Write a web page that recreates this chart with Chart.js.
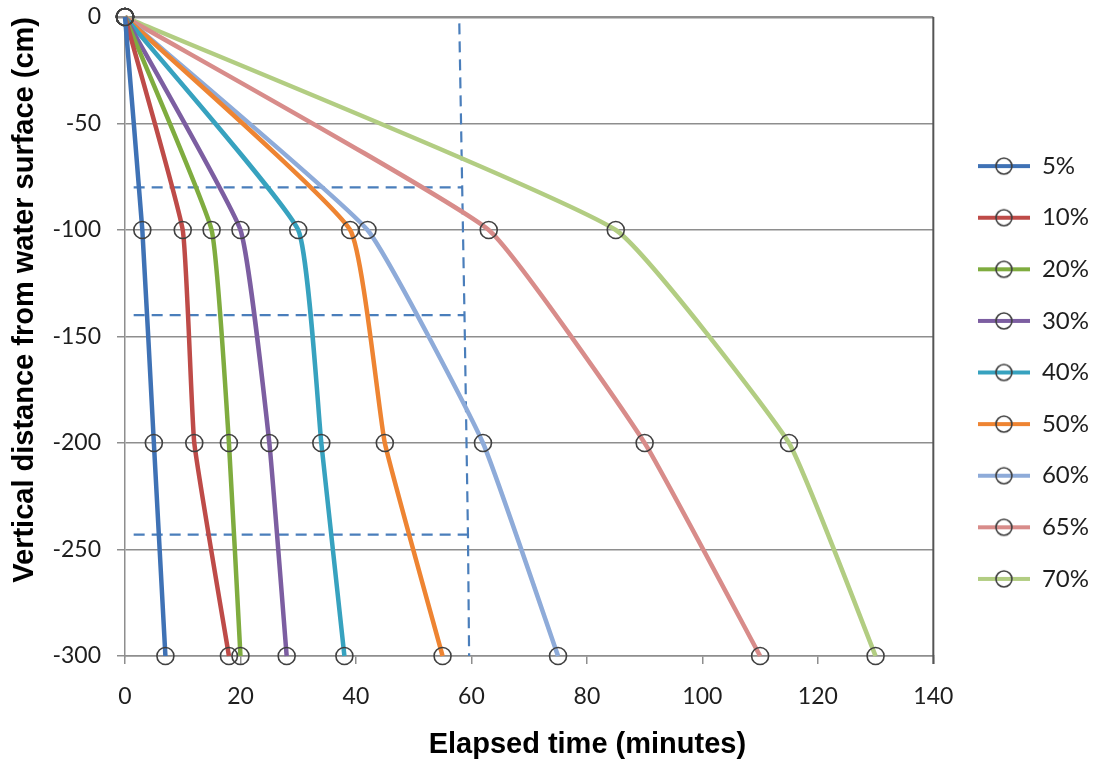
<!DOCTYPE html>
<html>
<head>
<meta charset="utf-8">
<title>Elapsed time vs vertical distance</title>
<script src="https://cdn.jsdelivr.net/npm/chart.js@4.4.1/dist/chart.umd.min.js"></script>
<style>
  html, body { margin: 0; padding: 0; background: #fff; }
  #chart { display: block; }
</style>
</head>
<body>
<canvas id="chart" width="1094" height="762"></canvas>
<script>
// data
var depths = [0, -100, -200, -300];
var seriesLabels = ['5%', '10%', '20%', '30%', '40%', '50%', '60%', '65%', '70%'];
var time5 = [0, 3, 5, 7];
var time10 = [0, 10, 12, 18];
var time20 = [0, 15, 18, 20];
var time30 = [0, 20, 25, 28];
var time40 = [0, 30, 34, 38];
var time50 = [0, 39, 45, 55];
var time60 = [0, 42, 62, 75];
var time65 = [0, 63, 90, 110];
var time70 = [0, 85, 115, 130];
var seriesTimes = [time5, time10, time20, time30, time40, time50, time60, time65, time70];
var seriesColors = ['#3f72b5', '#be4b48', '#7fac3f', '#7c5ea1', '#37a2bf', '#ee8432', '#8eabd9', '#d88c8a', '#b2cd82'];

// dashed guide lines
var guideVX = [57.9, 58.4, 58.8, 59.4, 59.6];
var guideVY = [-3, -80, -140, -243, -300];
var guideHY = [-80, -140, -243];
var guideHStart = 1.5;
var guideHEnd = [58.4, 58.8, 59.4];

// ticks
var xTickValues = [0, 20, 40, 60, 80, 100, 120, 140];
var yTickValues = [0, -50, -100, -150, -200, -250, -300];
var xTitle = 'Elapsed time (minutes)';
var yTitle = 'Vertical distance from water surface (cm)';

var gridGray = '#8e8e8e';
var textColor = '#1e1e1e';

function toPoints(xs, ys) {
  var pts = [];
  for (var i = 0; i < xs.length; i++) {
    pts.push({x: xs[i], y: ys[i]});
  }
  return pts;
}

// legend icon: line with open circle
function makeLegendIcon(color) {
  var c = document.createElement('canvas');
  c.width = 52;
  c.height = 22;
  var g = c.getContext('2d');
  g.strokeStyle = color;
  g.lineWidth = 4;
  g.beginPath();
  g.moveTo(0, 11);
  g.lineTo(52, 11);
  g.stroke();
  g.strokeStyle = '#404040';
  g.lineWidth = 1.6;
  g.beginPath();
  g.arc(26, 11, 8, 0, Math.PI * 2);
  g.stroke();
  return c;
}

var datasets = [];
seriesLabels.forEach(function(label, i) {
  datasets.push({
    label: label,
    data: toPoints(seriesTimes[i], depths),
    borderColor: seriesColors[i],
    backgroundColor: seriesColors[i],
    borderWidth: 4.5,
    tension: 0.12,
    pointRadius: 8.5,
    pointBorderWidth: 1.6,
    pointBorderColor: '#404040',
    pointBackgroundColor: 'rgba(0,0,0,0)',
    clip: false,
    legendIcon: makeLegendIcon(seriesColors[i])
  });
});

// guide datasets
datasets.push({
  label: 'guide',
  data: toPoints(guideVX, guideVY),
  borderColor: '#4a7ebb',
  borderWidth: 2.2,
  borderDash: [11, 7],
  pointRadius: 0,
  tension: 0
});
guideHY.forEach(function(y, i) {
  datasets.push({
    label: 'guide',
    data: toPoints([guideHStart, guideHEnd[i]], [y, y]),
    borderColor: '#4a7ebb',
    borderWidth: 2.2,
    borderDash: [11, 7],
    pointRadius: 0,
    tension: 0
  });
});

// frame on the right of plot + x axis title
var framePlugin = {
  id: 'frame',
  afterDraw: function(chart) {
    var a = chart.chartArea;
    var ctx = chart.ctx;
    ctx.save();
    ctx.strokeStyle = '#555';
    ctx.lineWidth = 2;
    ctx.beginPath();
    ctx.moveTo(a.right, a.top);
    ctx.lineTo(a.right, a.bottom + 8);
    ctx.stroke();
    ctx.font = 'bold 29px "Liberation Sans", Arial, sans-serif';
    ctx.fillStyle = '#000';
    ctx.textAlign = 'center';
    ctx.textBaseline = 'middle';
    ctx.fillText(xTitle, a.left + a.width * 0.572, 745);
    ctx.restore();
  }
};

// move legend to where it sits in the picture
var legendShift = {
  id: 'legendShift',
  afterLayout: function(chart) {
    var lg = chart.legend;
    if (!lg) return;
    lg.left += 17;
    lg.right += 17;
    lg.top -= 11;
    lg.bottom -= 11;
  }
};

var ctx = document.getElementById('chart');
var myChart = new Chart(ctx, {
  type: 'line',
  data: {datasets: datasets},
  plugins: [framePlugin, legendShift],
  options: {
    responsive: false,
    animation: false,
    devicePixelRatio: 1,
    layout: {
      padding: {left: 8, right: 12, top: 5, bottom: 0}
    },
    scales: {
      x: {
        type: 'linear',
        min: 0,
        max: 140,
        afterBuildTicks: function(scale) {
          scale.ticks = xTickValues.map(function(v) { return {value: v}; });
        },
        afterFit: function(scale) {
          scale.height = 762 - 656;
        },
        grid: {
          drawOnChartArea: false,
          drawTicks: true,
          tickLength: 8,
          color: gridGray,
          lineWidth: 1.5
        },
        border: {display: true, color: gridGray, width: 1.5},
        ticks: {
          padding: 19,
          maxRotation: 0,
          color: textColor,
          font: {family: 'Lato', size: 23}
        },
        title: {display: false}
      },
      y: {
        type: 'linear',
        min: -300,
        max: 0,
        afterBuildTicks: function(scale) {
          scale.ticks = yTickValues.map(function(v) { return {value: v}; });
        },
        afterFit: function(scale) {
          scale.width = 125 - 8;
          scale.paddingTop = 17;
        },
        grid: {
          tickLength: 8,
          color: gridGray,
          lineWidth: function(c) { return c.tick && c.tick.value === 0 ? 2.5 : 1.5; }
        },
        border: {display: true, color: gridGray, width: 1.5},
        ticks: {
          padding: 16,
          color: textColor,
          font: {family: 'Lato', size: 23}
        },
        title: {
          display: true,
          text: yTitle,
          align: 'end',
          color: '#000',
          padding: {top: 0, bottom: 0},
          font: {family: 'Liberation Sans', size: 29, weight: 'bold'}
        }
      }
    },
    plugins: {
      legend: {
        position: 'right',
        align: 'center',
        labels: {
          usePointStyle: true,
          pointStyleWidth: 52,
          padding: 27.6,
          color: textColor,
          font: {family: 'Lato', size: 24},
          filter: function(item) {
            return item.datasetIndex < seriesLabels.length;
          },
          generateLabels: function(chart) {
            var items = Chart.defaults.plugins.legend.labels.generateLabels(chart);
            items.forEach(function(item) {
              var ds = chart.data.datasets[item.datasetIndex];
              if (ds.legendIcon) item.pointStyle = ds.legendIcon;
            });
            return items;
          }
        }
      },
      tooltip: {enabled: false}
    }
  }
});
</script>
</body>
</html>
